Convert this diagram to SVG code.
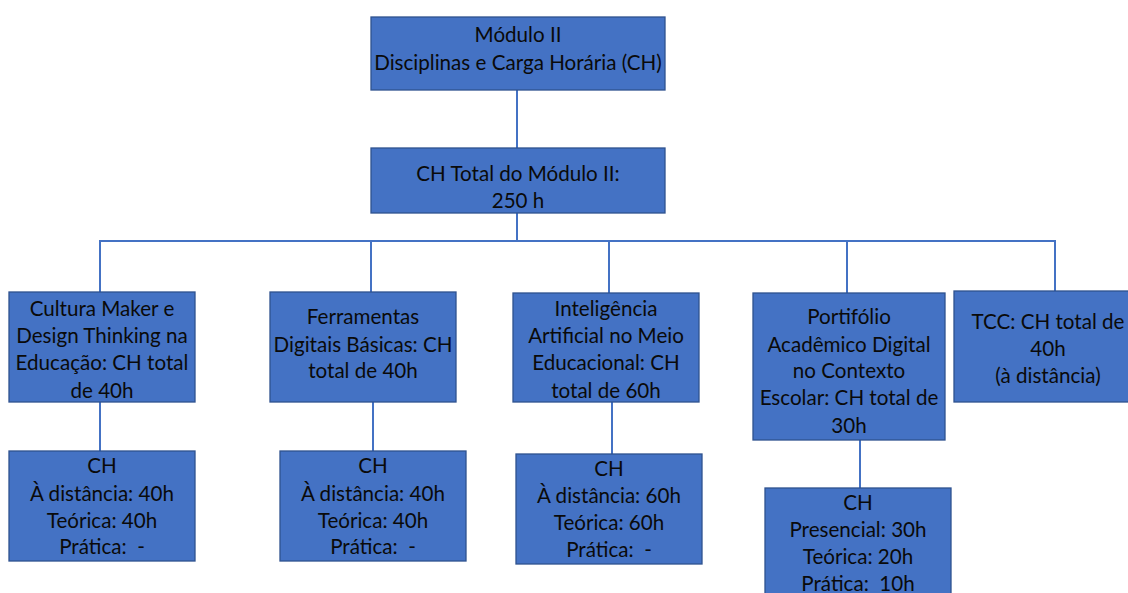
<svg xmlns="http://www.w3.org/2000/svg" width="1128" height="593" viewBox="0 0 1128 593">
<style>
.box{fill:#4472C4;stroke:#2F528F;stroke-width:1.3}
.t{font-family:Lato,"Open Sans",sans-serif;font-size:20.6px;fill:#0a0a0a;text-anchor:middle;white-space:pre}
.c{stroke:#4472C4;stroke-width:2;fill:none}
</style>
<rect width="1128" height="593" fill="#fff"/>
<g id="connectors">
<line class="c" x1="517" y1="90" x2="517" y2="148"/>
<line class="c" x1="517" y1="213" x2="517" y2="241"/>
<polyline class="c" points="100,292 100,241 1055,241 1055,291"/>
<line class="c" x1="371" y1="241" x2="371" y2="292"/>
<line class="c" x1="609" y1="241" x2="609" y2="293"/>
<line class="c" x1="847" y1="241" x2="847" y2="293"/>
<line class="c" x1="100" y1="402" x2="100" y2="451"/>
<line class="c" x1="373" y1="402" x2="373" y2="451"/>
<line class="c" x1="612" y1="402" x2="612" y2="454"/>
<line class="c" x1="860" y1="440" x2="860" y2="488"/>
</g>
<g id="n-modulo">
<rect class="box" x="371" y="17" width="294" height="73"/>
<text class="t" x="518" y="42">Módulo II</text>
<text class="t" x="518" y="70">Disciplinas e Carga Horária (CH)</text>
</g>
<g id="n-total">
<rect class="box" x="371" y="148" width="294" height="65"/>
<text class="t" x="518" y="181">CH Total do Módulo II:</text>
<text class="t" x="518" y="208">250 h</text>
</g>
<g id="n-cultura">
<rect class="box" x="9" y="292" width="186" height="110"/>
<text class="t" x="102" y="316">Cultura Maker e</text>
<text class="t" x="102" y="343">Design Thinking na</text>
<text class="t" x="102" y="370">Educação: CH total</text>
<text class="t" x="102" y="398">de 40h</text>
</g>
<g id="n-ferramentas">
<rect class="box" x="270" y="292" width="186" height="110"/>
<text class="t" x="363" y="324">Ferramentas</text>
<text class="t" x="363" y="352">Digitais Básicas: CH</text>
<text class="t" x="363" y="378">total de 40h</text>
</g>
<g id="n-ia">
<rect class="box" x="513" y="293" width="186" height="109"/>
<text class="t" x="606" y="316">Inteligência</text>
<text class="t" x="606" y="343">Artificial no Meio</text>
<text class="t" x="606" y="370">Educacional: CH</text>
<text class="t" x="606" y="398">total de 60h</text>
</g>
<g id="n-portfolio">
<rect class="box" x="753" y="293" width="192" height="147"/>
<text class="t" x="849" y="324">Portifólio</text>
<text class="t" x="849" y="352">Acadêmico Digital</text>
<text class="t" x="849" y="378">no Contexto</text>
<text class="t" x="849" y="405">Escolar: CH total de</text>
<text class="t" x="849" y="433">30h</text>
</g>
<g id="n-tcc">
<rect class="box" x="954" y="291" width="180" height="111"/>
<text class="t" x="1048" y="329">TCC: CH total de</text>
<text class="t" x="1048" y="356">40h</text>
<text class="t" x="1048" y="383">(à distância)</text>
</g>
<g id="n-ch1">
<rect class="box" x="9" y="451" width="186" height="110"/>
<text class="t" x="102" y="473">CH</text>
<text class="t" x="102" y="501">À distância: 40h</text>
<text class="t" x="102" y="528">Teórica: 40h</text>
<text class="t" x="102" y="554">Prática:  -</text>
</g>
<g id="n-ch2">
<rect class="box" x="280" y="451" width="186" height="110"/>
<text class="t" x="373" y="473">CH</text>
<text class="t" x="373" y="501">À distância: 40h</text>
<text class="t" x="373" y="528">Teórica: 40h</text>
<text class="t" x="373" y="554">Prática:  -</text>
</g>
<g id="n-ch3">
<rect class="box" x="516" y="454" width="186" height="110"/>
<text class="t" x="609" y="476">CH</text>
<text class="t" x="609" y="503">À distância: 60h</text>
<text class="t" x="609" y="530">Teórica: 60h</text>
<text class="t" x="609" y="557">Prática:  -</text>
</g>
<g id="n-ch4">
<rect class="box" x="765" y="488" width="186" height="110"/>
<text class="t" x="858" y="510">CH</text>
<text class="t" x="858" y="537">Presencial: 30h</text>
<text class="t" x="858" y="564">Teórica: 20h</text>
<text class="t" x="858" y="591">Prática:  10h</text>
</g>
</svg>
